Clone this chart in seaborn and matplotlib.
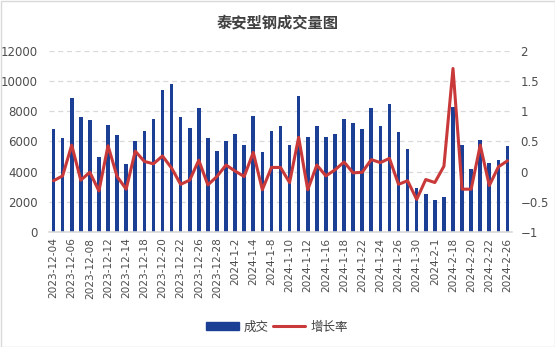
import matplotlib
matplotlib.use("Agg")
import matplotlib.pyplot as plt
import seaborn as sns
import numpy as np
import pandas as pd
from matplotlib.patches import Rectangle
from matplotlib.lines import Line2D
from matplotlib.patches import Patch

dates = ["2023-12-04", "2023-12-05", "2023-12-06", "2023-12-07", "2023-12-08",
         "2023-12-11", "2023-12-12", "2023-12-13", "2023-12-14", "2023-12-15",
         "2023-12-18", "2023-12-19", "2023-12-20", "2023-12-21", "2023-12-22",
         "2023-12-25", "2023-12-26", "2023-12-27", "2023-12-28", "2023-12-29",
         "2024-1-2", "2024-1-3", "2024-1-4", "2024-1-5", "2024-1-8",
         "2024-1-9", "2024-1-10", "2024-1-11", "2024-1-12", "2024-1-15",
         "2024-1-16", "2024-1-17", "2024-1-18", "2024-1-19", "2024-1-22",
         "2024-1-23", "2024-1-24", "2024-1-25", "2024-1-26", "2024-1-29",
         "2024-1-30", "2024-1-31", "2024-2-1", "2024-2-2", "2024-2-18",
         "2024-2-19", "2024-2-20", "2024-2-21", "2024-2-22", "2024-2-23",
         "2024-2-26"]

volume = [6800, 6200, 8900, 7600, 7400, 5000, 7100, 6400, 4500, 6000,
          6700, 7500, 9400, 9800, 7600, 6900, 8200, 6200, 5400, 6000,
          6500, 5800, 7700, 5300, 6700, 7000, 5800, 9000, 6300, 7000,
          6300, 6500, 7500, 7200, 6800, 8200, 7000, 8500, 6600, 5500,
          2900, 2500, 2100, 2300, 8300, 5800, 4200, 6100, 4600, 4800,
          5700]

growth = [-0.15, -0.07, 0.44, -0.14, -0.01, -0.32, 0.43, -0.08, -0.29, 0.34,
          0.17, 0.13, 0.26, 0.06, -0.21, -0.14, 0.19, -0.22, -0.08, 0.11,
          0.01, -0.08, 0.32, -0.30, 0.07, 0.07, -0.18, 0.57, -0.30, 0.11,
          -0.07, 0.03, 0.16, -0.02, -0.01, 0.20, 0.15, 0.22, -0.21, -0.15,
          -0.46, -0.13, -0.18, 0.09, 1.71, -0.29, -0.29, 0.44, -0.23, 0.08,
          0.18]

bar_label = "成交"
line_label = "增长率"
title = "泰安型钢成交量图"

sns.set_theme(style="white")
plt.rcParams['font.family'] = ['Noto Sans CJK SC', 'DejaVu Sans']
plt.rcParams['axes.unicode_minus'] = True

df = pd.DataFrame({"date": dates, "volume": volume, "growth": growth,
                   "pos": np.arange(len(dates))})

fig = plt.figure(figsize=(5.55, 3.47), dpi=100)
ax = fig.add_axes([49/555, 1-232/347, (512-49)/555, (232-51)/347])

bar_color = "#1B3F94"
line_color = "#C9393A"
sns.barplot(data=df, x="pos", y="volume", color=bar_color, width=0.4,
            saturation=1, linewidth=0, ax=ax)
for p in ax.patches:
    p.set_antialiased(False)
ax2 = ax.twinx()
sns.lineplot(data=df, x="pos", y="growth", color=line_color, linewidth=2.2,
             ax=ax2)

ax.set_xlim(-0.5, len(dates) - 0.5)
ax.set_ylim(0, 12000)
ax.set_yticks(np.arange(0, 12001, 2000))
ax2.set_ylim(-1, 2)
ax2.set_yticks([-1, -0.5, 0, 0.5, 1, 1.5, 2])
ax2.set_yticklabels(["\u22121", "\u22120.5", "0", "0.5", "1", "1.5", "2"])

ax.set_xticks(np.arange(0, len(dates), 2))
ax.set_xticklabels(dates[::2], rotation=90, fontsize=7.6, color="#4D4D4D",
                   family="DejaVu Sans")
ax.tick_params(axis="x", length=0, pad=4)
ax.tick_params(axis="y", length=0, pad=8, labelsize=8.5, labelcolor="#4D4D4D")
ax2.tick_params(axis="y", length=0, pad=6, labelsize=8.5, labelcolor="#4D4D4D")
for t in ax.get_yticklabels() + ax2.get_yticklabels():
    t.set_family("DejaVu Sans")

ax.set_xlabel("")
ax.set_ylabel("")
ax2.set_xlabel("")
ax2.set_ylabel("")

ax.yaxis.grid(True, linestyle=(0, (4, 3)), color="#D9D9D9", linewidth=0.9)
ax.set_axisbelow(True)
for a in (ax, ax2):
    for s in ("top", "left", "right"):
        a.spines[s].set_visible(False)
    a.spines["bottom"].set_visible(True)
    a.spines["bottom"].set_color("#D9D9D9")
    a.spines["bottom"].set_linewidth(1.2)
ax2.spines["bottom"].set_visible(False)
ax2.grid(False)
if ax2.get_legend():
    ax2.get_legend().remove()

fig.text(0.5, 1 - 22/347, title, ha="center", va="center", fontsize=11,
         fontweight="bold", color="#404040")

handles = [Patch(facecolor=bar_color, edgecolor=bar_color),
           Line2D([0], [0], color=line_color, linewidth=2.2)]
fig.legend(handles, [bar_label, line_label], loc="center",
           bbox_to_anchor=(277/555, 1 - 327/347), ncol=2, frameon=False,
           fontsize=9, handlelength=2.6, handleheight=0.6,
           columnspacing=0.3, handletextpad=0.4, labelcolor="#404040")

fig.patches.append(Rectangle((0.5/555, 0.5/347), 1 - 1/555, 1 - 1/347,
                             transform=fig.transFigure, fill=False,
                             edgecolor="#D9D9D9", linewidth=1.0))

fig.savefig("out.png", dpi=100)
